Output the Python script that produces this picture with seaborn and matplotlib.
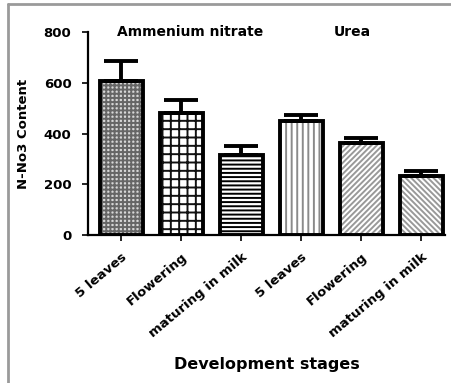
import numpy as np
import pandas as pd
import matplotlib
matplotlib.use('Agg')
import matplotlib.pyplot as plt
import seaborn as sns
from matplotlib.lines import Line2D

# values
fertilizers = ['Ammenium nitrate'] * 3 + ['Urea'] * 3
stages = ['5 leaves', 'Flowering', 'maturing in milk'] * 2
n_no3 = [608, 481, 317, 449, 363, 233]
errors = [80, 50, 36, 26, 20, 21]

hatches = ['++++', '++', '----', '|||', '//////', '\\\\\\\\\\\\']
hatch_colors = ['#666666', '#111111', '#000000', '#8a8a8a', '#999999', '#999999']
face_colors = ['#d8d8d8', 'white', 'white', 'white', 'white', 'white']

df = pd.DataFrame({'Fertilizer': fertilizers, 'Stage': stages, 'N-No3': n_no3})
df['key'] = df['Fertilizer'] + ' / ' + df['Stage']

sns.set_style('white')
plt.rcParams['font.family'] = ['DejaVu Sans']
plt.rcParams['font.weight'] = 'bold'
for k in ['text.color', 'axes.labelcolor', 'xtick.color', 'ytick.color']:
    plt.rcParams[k] = 'black'
plt.rcParams['hatch.linewidth'] = 1.4

fig = plt.figure(figsize=(4.52, 3.83), dpi=100)
ax = fig.add_axes([0.195, 0.386, 0.79, 0.53])

# hatched fill first
sns.barplot(data=df, x='key', y='N-No3', color='white', width=0.72,
            errorbar=None, linewidth=0, ax=ax)
for p, h, hc, fc in zip(ax.patches, hatches, hatch_colors, face_colors):
    p.set_hatch(h)
    p.set_edgecolor(hc)
    p.set_facecolor(fc)

# black outline on top
sns.barplot(data=df, x='key', y='N-No3', fill=False, width=0.72,
            errorbar=None, edgecolor='black', linewidth=2.8, ax=ax)

# one-sided error bars
xs = np.arange(len(n_no3))
ax.errorbar(xs, df['N-No3'], yerr=[np.zeros(len(errors)), errors], fmt='none',
            ecolor='black', elinewidth=2.8, capsize=12, capthick=2.8, zorder=5)

ax.set_ylim(0, 800)
ax.set_xlim(-0.55, 5.4)
ax.set_yticks([0, 200, 400, 600, 800])
ax.set_xticks(xs)
ax.set_xticklabels(stages, rotation=40, ha='right', rotation_mode='anchor',
                   fontsize=9.5, fontweight='bold')
for t in ax.get_yticklabels():
    t.set_fontsize(9.5)
    t.set_fontweight('bold')
ax.tick_params(axis='both', direction='out', length=4, width=1.2, color='black',
               bottom=True, left=True)
ax.tick_params(axis='x', pad=7)
ax.tick_params(axis='y', pad=8)
ax.set_xlabel('Development stages', fontsize=11.5, fontweight='bold', labelpad=12)
ax.set_ylabel('N-No3 Content', fontsize=9.5, fontweight='bold', labelpad=10)
sns.despine(ax=ax)
for s in ['left', 'bottom']:
    ax.spines[s].set_linewidth(1.6)
    ax.spines[s].set_color('black')

ax.text(1.15, 800, 'Ammenium nitrate', ha='center', va='center',
        fontsize=10, fontweight='bold')
ax.text(3.85, 800, 'Urea', ha='center', va='center',
        fontsize=10, fontweight='bold')

# grey frame at the top and left of the picture
fig.add_artist(Line2D([0.018, 1.0], [0.99, 0.99], transform=fig.transFigure,
                      color='#9a9a9a', linewidth=2))
fig.add_artist(Line2D([0.018, 0.018], [0.0, 0.99], transform=fig.transFigure,
                      color='#9a9a9a', linewidth=2))

fig.savefig('out.png', dpi=100)
